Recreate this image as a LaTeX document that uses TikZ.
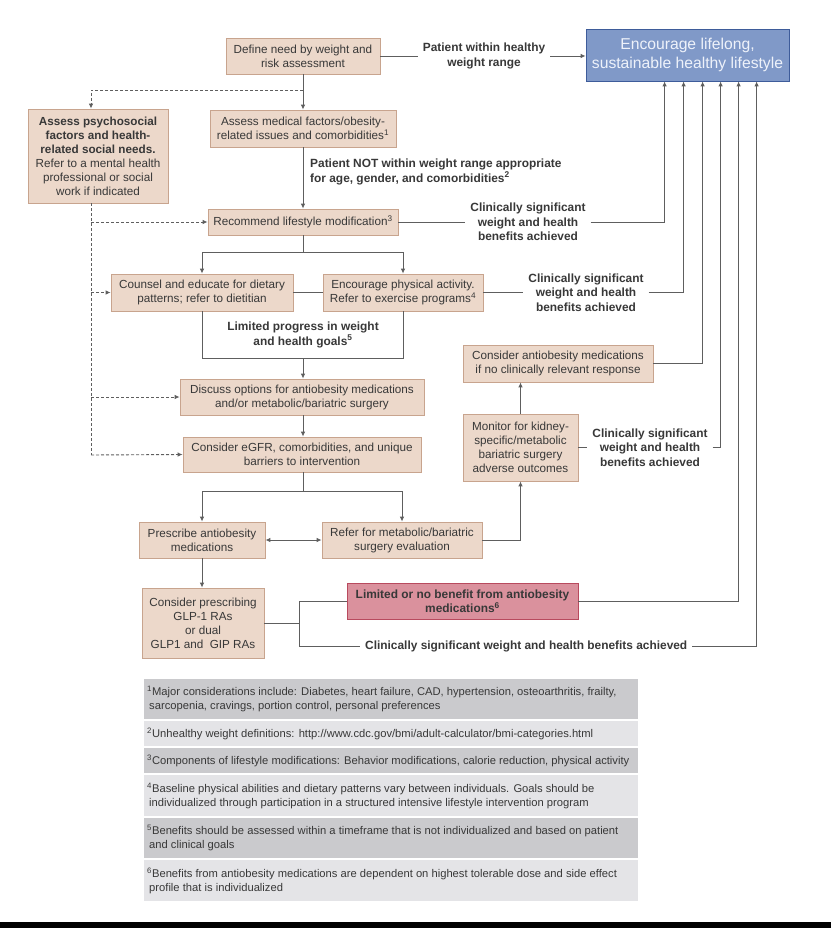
\documentclass[tikz,border=0pt]{standalone}
\usepackage{fontspec}
\setmainfont{Liberation Sans}
\usetikzlibrary{arrows.meta,positioning}
\definecolor{tanfill}{HTML}{ECD8CA}
\definecolor{tanline}{HTML}{C8A48E}
\definecolor{txt}{HTML}{383838}
\definecolor{lncol}{HTML}{5E5E5E}
\definecolor{bluefill}{HTML}{8099C8}
\definecolor{blueline}{HTML}{3E5C9A}
\definecolor{bluetxt}{HTML}{EEF2FA}
\definecolor{redfill}{HTML}{DA919D}
\definecolor{redline}{HTML}{B84A5E}
\definecolor{footdark}{HTML}{CACACD}
\definecolor{footlight}{HTML}{E4E4E7}
\tikzset{
  box/.style={draw=tanline, fill=tanfill, text=txt, align=center, inner sep=0pt, line width=0.8pt,
    font=\fontsize{11.7}{14}\selectfont},
  lbl/.style={text=txt, align=center, inner xsep=5pt, inner ysep=0pt, font=\fontsize{11.9}{14.3}\selectfont\bfseries},
  ln/.style={draw=lncol, line width=0.9pt},
  arr/.style={ln, -{Latex[length=5pt,width=4.5pt]}},
  darr/.style={ln, {Latex[length=5pt,width=4.5pt]}-{Latex[length=5pt,width=4.5pt]}},
  dsh/.style={draw=lncol, line width=0.9pt, dash pattern=on 3pt off 2pt},
  dsharr/.style={dsh, -{Latex[length=5pt,width=4.5pt]}},
  foot/.style={text=txt, align=left, anchor=west, inner sep=0pt, font=\fontsize{11.2}{14}\selectfont},
}
\begin{document}
\begin{tikzpicture}[x=1pt,y=-1pt]
\fill[white] (0,0) rectangle (831,928);
\useasboundingbox (0,0) rectangle (831,928);
\fill[black] (0,922) rectangle (831,928);

% top
\node[box, minimum width=154pt, minimum height=36pt] (def) at (303,56) {Define need by weight and\\risk assessment};
\node[draw=blueline, fill=bluefill, text=bluetxt, align=center, inner sep=0pt, line width=0.8pt,
  minimum width=203pt, minimum height=52pt, font=\fontsize{15.7}{19}\selectfont] (enc) at (687.5,55)
  {Encourage lifelong,\\sustainable healthy lifestyle};
\node[lbl] (pwh) at (484,56) {Patient within healthy\\weight range};
\draw[ln] (def.east) -- (pwh.west);
\draw[arr] (pwh.east) -- (pwh.east -| enc.west);

\path (enc.south west) ++(79,0) coordinate (u1);
\path (enc.south west) ++(98,0) coordinate (u2);
\path (enc.south west) ++(117,0) coordinate (u3);
\path (enc.south west) ++(135,0) coordinate (u4);
\path (enc.south west) ++(153,0) coordinate (u5);
\path (enc.south west) ++(171,0) coordinate (u6);

\node[box, minimum width=186pt, minimum height=37pt] (med) at (303,128.5) {Assess medical factors/obesity-\\related issues and comorbidities\textsuperscript{1}};
\node[box, minimum width=140pt, minimum height=94pt] (psy) at (98,156)
  {\textbf{Assess psychosocial}\\\textbf{factors and health-}\\\textbf{related social needs.}\\Refer to a mental health\\professional or social\\work if indicated};
\draw[arr] (def.south) -- (med.north);
\coordinate (dtop) at (303,90);
\coordinate (dl) at (91,90);
\draw[dsharr] (dtop) -- (dl) -- (dl |- psy.north);

\node[lbl, align=left, anchor=west, inner xsep=0pt] (notlbl) at (310,172) {Patient NOT within weight range appropriate\\for age, gender, and comorbidities\textsuperscript{2}};

\node[box, minimum width=190pt, minimum height=26pt] (rec) at (303,222) {Recommend lifestyle modification\textsuperscript{3}};
\draw[arr] (med.south) -- (rec.north);
\node[lbl] (cs1) at (528,222) {Clinically significant\\weight and health\\benefits achieved};
\draw[ln] (rec.east) -- (cs1.west);
\draw[arr] (cs1.east) -| (u1);

% counsel / encourage
\node[box, minimum width=182pt, minimum height=37pt] (counsel) at (202,292.5) {Counsel and educate for dietary\\patterns; refer to dietitian};
\node[box, minimum width=160pt, minimum height=37pt] (encphys) at (403,292.5) {Encourage physical activity.\\Refer to exercise programs\textsuperscript{4}};
\draw[ln] (rec.south) -- (303,252) coordinate (s1);
\draw[arr] (s1) -| (counsel.north);
\draw[arr] (s1) -| (encphys.north);
\draw[ln] (counsel.east) -- (encphys.west);
\node[lbl] (cs2) at (586,292.5) {Clinically significant\\weight and health\\benefits achieved};
\draw[ln] (encphys.east) -- (cs2.west);
\draw[arr] (cs2.east) -| (u2);

\node[lbl] (limlbl) at (303,335) {Limited progress in weight\\and health goals\textsuperscript{5}};
\coordinate (lp) at (303,358);
\draw[ln] (counsel.south) -- (counsel.south |- lp) -- (encphys.south |- lp) -- (encphys.south);

\node[box, minimum width=244pt, minimum height=36pt] (discuss) at (302,397) {Discuss options for antiobesity medications\\and/or metabolic/bariatric surgery};
\draw[arr] (lp) -- (lp |- discuss.north);
\node[box, minimum width=238pt, minimum height=35pt] (egfr) at (302,454.5) {Consider eGFR, comorbidities, and unique\\barriers to intervention};
\draw[arr] (discuss.south -| lp) -- (lp |- egfr.north);

% dashed left rail
\coordinate (dbot) at (91,455);
\draw[dsh] (dl |- psy.south) -- (dbot);
\draw[dsharr] (dl |- rec.west) -- (rec.west);
\draw[dsharr] (dl |- counsel.west) -- (counsel.west);
\draw[dsharr] (dl |- discuss.west) -- (discuss.west);
\draw[dsharr] (dbot) -- (egfr.west);

% lower
\node[box, minimum width=126pt, minimum height=36pt] (presc) at (202,540) {Prescribe antiobesity\\medications};
\node[box, minimum width=160pt, minimum height=36pt] (refer) at (402,540) {Refer for metabolic/bariatric\\surgery evaluation};
\draw[ln] (egfr.south -| lp) -- (303,491) coordinate (s2);
\draw[arr] (s2) -| (presc.north);
\draw[arr] (s2) -| (refer.north);
\draw[darr] (presc.east) -- (refer.west);

\node[box, minimum width=115pt, minimum height=67pt] (mon) at (520.5,447.5) {Monitor for kidney-\\specific/metabolic\\bariatric surgery\\adverse outcomes};
\node[box, minimum width=190pt, minimum height=37pt] (conab) at (558,363.5) {Consider antiobesity medications\\if no clinically relevant response};
\draw[arr] (refer.east) -| (mon.south);
\draw[arr] (mon.north) -- (mon.north |- conab.south);
\draw[arr] (conab.east) -| (u3);
\node[lbl] (cs3) at (650,447.5) {Clinically significant\\weight and health\\benefits achieved};
\draw[ln] (mon.east) -- (cs3.west);
\draw[arr] (cs3.east) -| (u4);

\node[box, minimum width=122pt, minimum height=70pt] (glp) at (203,623) {Consider prescribing\\GLP-1 RAs\\or dual\\GLP1 and\ \ GIP RAs};
\draw[arr] (presc.south) -- (presc.south |- glp.north);
\node[draw=redline, fill=redfill, text=txt, align=center, inner sep=0pt, line width=0.8pt,
  minimum width=231pt, minimum height=36pt, font=\fontsize{11.9}{14.3}\selectfont\bfseries] (red) at (462.5,601)
  {Limited or no benefit from antiobesity\\medications\textsuperscript{6}};
\node[lbl, anchor=west] (cs4) at (360,646) {Clinically significant weight and health benefits achieved};
\coordinate (gj) at (299,623);
\draw[ln] (glp.east) -- (gj);
\draw[ln] (red.west) -- (gj |- red.west) -- (gj |- cs4.west) -- (cs4.west);
\draw[arr] (red.east) -| (u5);
\draw[arr] (cs4.east) -| (u6);

% footnotes
\fill[footdark] (144,679) rectangle (638,719);
\fill[footlight] (144,721) rectangle (638,746);
\fill[footdark] (144,748) rectangle (638,773);
\fill[footlight] (144,775) rectangle (638,816);
\fill[footdark] (144,818) rectangle (638,858);
\fill[footlight] (144,860) rectangle (638,901);
\node[foot] (f1) at (147,699) {\textsuperscript{1}Major considerations include: Diabetes, heart failure, CAD, hypertension, osteoarthritis, frailty,\\\hspace*{2pt}sarcopenia, cravings, portion control, personal preferences};
\node[foot] (f2) at (147,733.5) {\textsuperscript{2}Unhealthy weight definitions: http://www.cdc.gov/bmi/adult-calculator/bmi-categories.html};
\node[foot] (f3) at (147,760.5) {\textsuperscript{3}Components of lifestyle modifications: Behavior modifications, calorie reduction, physical activity};
\node[foot] (f4) at (147,795.5) {\textsuperscript{4}Baseline physical abilities and dietary patterns vary between individuals. Goals should be\\\hspace*{2pt}individualized through participation in a structured intensive lifestyle intervention program};
\node[foot] (f5) at (147,838) {\textsuperscript{5}Benefits should be assessed within a timeframe that is not individualized and based on patient\\\hspace*{2pt}and clinical goals};
\node[foot] (f6) at (147,880.5) {\textsuperscript{6}Benefits from antiobesity medications are dependent on highest tolerable dose and side effect\\\hspace*{2pt}profile that is individualized};
\end{tikzpicture}
\end{document}
